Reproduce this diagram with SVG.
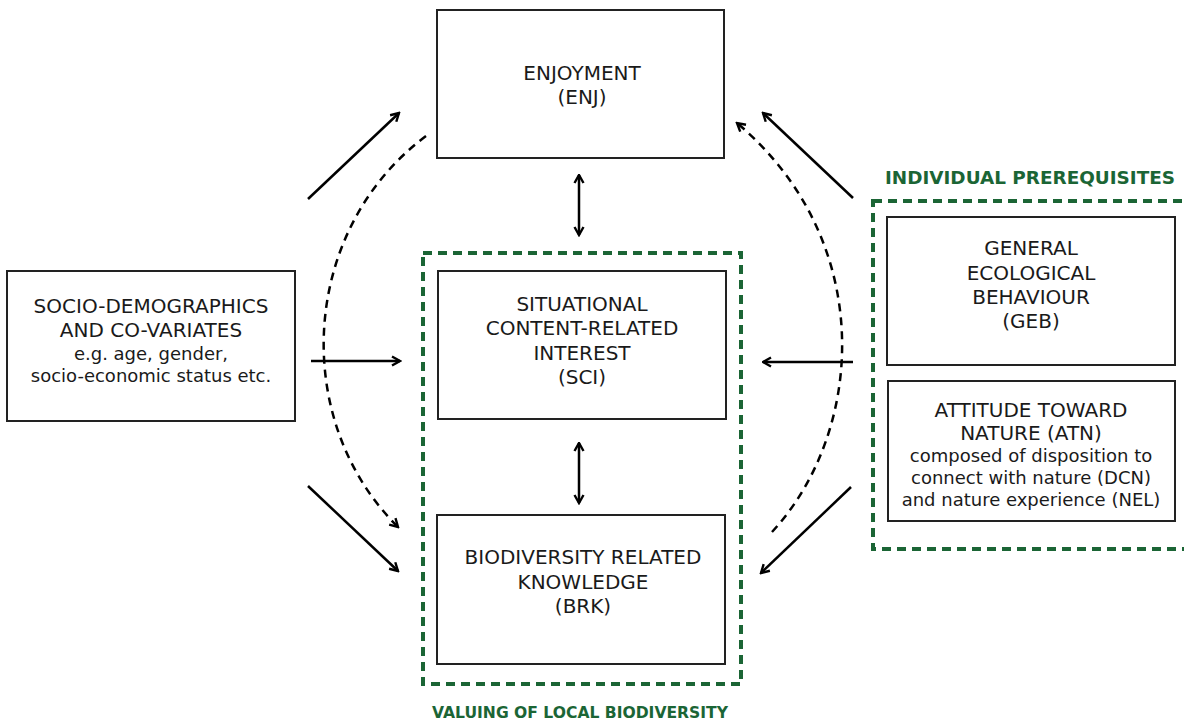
<svg xmlns="http://www.w3.org/2000/svg" width="1184" height="723" viewBox="0 0 1184 723">
<style>
.box{fill:#fff;stroke:#222;stroke-width:2}
.t{font-family:"DejaVu Sans",Verdana,sans-serif;font-size:20px;fill:#1a1a1a;text-anchor:middle}
.s{font-size:18px}
.frame{fill:none;stroke:#1b6535;stroke-width:4;stroke-dasharray:9 6}
.lbl{font-family:"DejaVu Sans",Verdana,sans-serif;font-weight:bold;fill:#1b6535;text-anchor:middle}
.a{fill:none;stroke:#000;stroke-width:2.5;marker-end:url(#ah)}
.d{fill:none;stroke:#000;stroke-width:2.5;stroke-dasharray:8 6;marker-end:url(#ah)}
.dbl{fill:none;stroke:#000;stroke-width:2.5;marker-start:url(#ah);marker-end:url(#ah)}
</style>
<defs>
<marker id="ah" viewBox="0 0 12 12" refX="10.5" refY="6" markerWidth="12" markerHeight="12" markerUnits="userSpaceOnUse" orient="auto-start-reverse">
<path d="M2.5,1.5 L10.5,6 L2.5,10.5" fill="none" stroke="#000" stroke-width="2.4" stroke-dasharray="none"/>
</marker>
</defs>
<rect width="1184" height="723" fill="#fff"/>

<g id="valuing-frame">
<rect class="frame" x="423" y="253" width="318" height="431"/>
<text class="lbl" x="580" y="718" font-size="15.5" textLength="296" lengthAdjust="spacingAndGlyphs">VALUING OF LOCAL BIODIVERSITY</text>
</g>
<g id="individual-frame">
<rect class="frame" x="873" y="201" width="330" height="348"/>
<text class="lbl" x="1030" y="184" font-size="18" textLength="290" lengthAdjust="spacingAndGlyphs">INDIVIDUAL PREREQUISITES</text>
</g>

<g id="enj">
<rect class="box" x="437" y="10" width="287" height="148"/>
<text class="t" x="582" y="80">ENJOYMENT</text>
<text class="t" x="582" y="104">(ENJ)</text>
</g>
<g id="sci">
<rect class="box" x="438" y="271" width="288" height="148"/>
<text class="t" x="582" y="311">SITUATIONAL</text>
<text class="t" x="582" y="335">CONTENT-RELATED</text>
<text class="t" x="582" y="360">INTEREST</text>
<text class="t" x="582" y="384">(SCI)</text>
</g>
<g id="brk">
<rect class="box" x="437" y="515" width="288" height="149"/>
<text class="t" x="583" y="564">BIODIVERSITY RELATED</text>
<text class="t" x="583" y="589">KNOWLEDGE</text>
<text class="t" x="583" y="613">(BRK)</text>
</g>
<g id="socio">
<rect class="box" x="7" y="271" width="288" height="150"/>
<text class="t" x="151" y="313">SOCIO-DEMOGRAPHICS</text>
<text class="t" x="151" y="337">AND CO-VARIATES</text>
<text class="t s" x="151" y="360">e.g. age, gender,</text>
<text class="t s" x="151" y="382">socio-economic status etc.</text>
</g>
<g id="geb">
<rect class="box" x="887" y="217" width="288" height="148"/>
<text class="t" x="1031" y="255">GENERAL</text>
<text class="t" x="1031" y="280">ECOLOGICAL</text>
<text class="t" x="1031" y="304">BEHAVIOUR</text>
<text class="t" x="1031" y="328">(GEB)</text>
</g>
<g id="atn">
<rect class="box" x="888" y="381" width="287" height="140"/>
<text class="t" x="1031" y="417">ATTITUDE TOWARD</text>
<text class="t" x="1031" y="440">NATURE (ATN)</text>
<text class="t s" x="1031" y="462">composed of disposition to</text>
<text class="t s" x="1031" y="484">connect with nature (DCN)</text>
<text class="t s" x="1031" y="506">and nature experience (NEL)</text>
</g>

<g id="connectors">
<line class="a" x1="308" y1="199" x2="399" y2="113"/>
<line class="a" x1="311" y1="361" x2="400" y2="361"/>
<line class="a" x1="308" y1="486" x2="398" y2="571"/>
<path class="d" d="M426,136 C300,230 290,420 398,527"/>
<line class="dbl" x1="579" y1="175" x2="579" y2="235"/>
<line class="dbl" x1="579" y1="443" x2="579" y2="503"/>
<line class="a" x1="853" y1="198" x2="763" y2="113"/>
<line class="a" x1="853" y1="362" x2="763" y2="362"/>
<line class="a" x1="851" y1="487" x2="761" y2="573"/>
<path class="d" d="M772,532 C866,430 876,240 737,123"/>
</g>
</svg>
